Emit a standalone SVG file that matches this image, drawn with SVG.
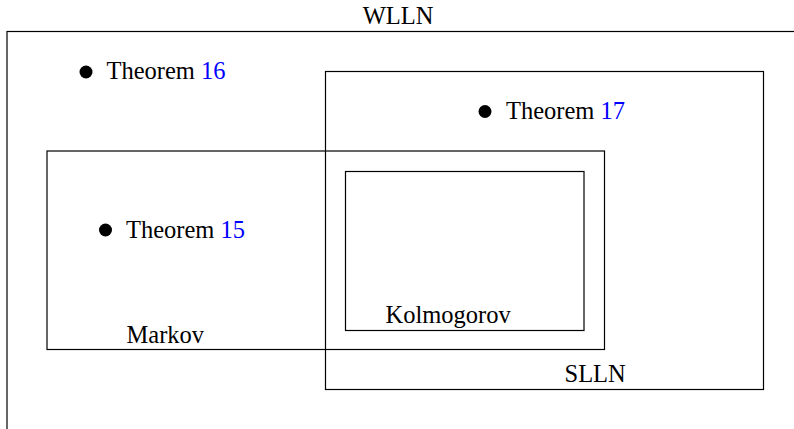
<svg xmlns="http://www.w3.org/2000/svg" width="794" height="429" viewBox="0 0 794 429">
<style>
.box{fill:none;stroke:#000;stroke-width:1.2}
text{font-family:"Liberation Serif","Times New Roman",serif;font-size:24.5px;fill:#000}
.ref{fill:#0000ff}
.dot{fill:#000}
</style>
<rect width="794" height="429" fill="#fff"/>
<g id="wlln">
<rect class="box" x="7" y="31.5" width="800" height="420"/>
<text x="398" y="24" text-anchor="middle">WLLN</text>
<circle class="dot" cx="86" cy="72" r="6.5"/>
<text x="106.5" y="79">Theorem <tspan class="ref">16</tspan></text>
</g>
<g id="slln">
<rect class="box" x="325.5" y="71.5" width="438" height="318"/>
<text x="564.5" y="382">SLLN</text>
<circle class="dot" cx="485" cy="111.5" r="6.5"/>
<text x="506" y="119">Theorem <tspan class="ref">17</tspan></text>
</g>
<g id="markov">
<rect class="box" x="47" y="151" width="557.5" height="198.5"/>
<text x="126.5" y="343">Markov</text>
<circle class="dot" cx="105.5" cy="230" r="6.5"/>
<text x="126" y="238">Theorem <tspan class="ref">15</tspan></text>
</g>
<g id="kolmogorov">
<rect class="box" x="345.5" y="171.5" width="238.5" height="159"/>
<text x="385.5" y="323">Kolmogorov</text>
</g>
<g id="connectors"></g>
</svg>
